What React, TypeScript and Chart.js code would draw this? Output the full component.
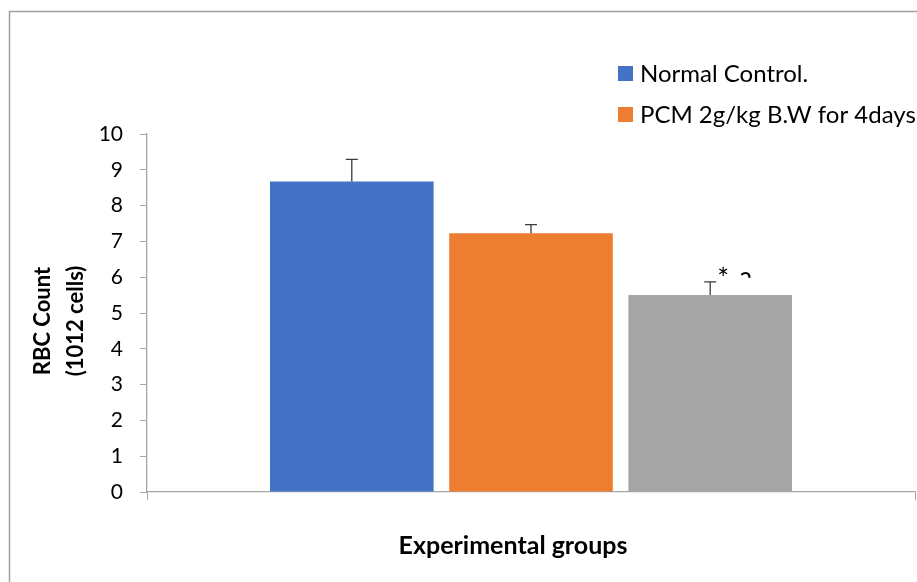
import React, { useEffect, useRef } from "react";
import { Chart, registerables } from "chart.js";

Chart.register(...registerables);

// ---- data ----
const categories = [""];
const seriesLabels = ["Normal Control.", "PCM 2g/kg B.W for 4days.", "Group 3"];
const seriesColors = ["#4472C4", "#ED7D31", "#A5A5A5"];
const normalControl = [8.67];
const pcmGroup = [7.23];
const thirdGroup = [5.5];
const errNormal = [0.62];
const errPcm = [0.24];
const errThird = [0.37];
const sigMarks = ["", "", "*"];
const sigLetters = ["", "", "a"];
const legendShown = [true, true, false];
const yMin = 0;
const yMax = 10;
const yStep = 1;
const yAxisTitle = ["RBC Count", "(1012 cells)"];
const xAxisTitle = "Experimental groups";

const FONT = "Lato, 'Noto Sans', sans-serif";
const AXIS_GRAY = "#a6a6a6";

const decorPlugin = {
  id: "decor",
  beforeDraw(chart: any) {
    const ctx = chart.ctx;
    ctx.save();
    ctx.strokeStyle = "#a0a0a0";
    ctx.lineWidth = 1.5;
    ctx.beginPath();
    ctx.moveTo(9.5, chart.height);
    ctx.lineTo(9.5, 11.5);
    ctx.lineTo(chart.width, 11.5);
    ctx.stroke();
    ctx.restore();
  },
  afterDatasetsDraw(chart: any) {
    const ctx = chart.ctx;
    const yScale = chart.scales.y;
    const errs = [errNormal, errPcm, errThird];
    ctx.save();
    chart.data.datasets.forEach((ds: any, i: number) => {
      const meta = chart.getDatasetMeta(i);
      meta.data.forEach((bar: any, j: number) => {
        const v = ds.data[j];
        const e = errs[i][j];
        const x = bar.x;
        const yb = yScale.getPixelForValue(v);
        const yt = yScale.getPixelForValue(v + e);
        ctx.strokeStyle = "#3a3a3a";
        ctx.lineWidth = 1.3;
        ctx.beginPath();
        ctx.moveTo(x, yb);
        ctx.lineTo(x, yt);
        ctx.moveTo(x - 6, yt);
        ctx.lineTo(x + 6, yt);
        ctx.stroke();
        if (sigMarks[i]) {
          ctx.fillStyle = "#000";
          ctx.font = `28px ${FONT}`;
          ctx.textAlign = "left";
          ctx.textBaseline = "alphabetic";
          ctx.fillText(sigMarks[i], x + 7, yt + 7);
        }
        if (sigLetters[i]) {
          ctx.save();
          ctx.beginPath();
          ctx.rect(x + 25, yt - 11, 30, 7);
          ctx.clip();
          ctx.fillStyle = "#000";
          ctx.font = `26px ${FONT}`;
          ctx.textAlign = "left";
          ctx.textBaseline = "alphabetic";
          ctx.fillText(sigLetters[i], x + 29, yt + 4);
          ctx.restore();
        }
      });
    });
    ctx.restore();
  },
  afterDraw(chart: any) {
    const ctx = chart.ctx;
    ctx.save();
    ctx.font = `24px ${FONT}`;
    ctx.textBaseline = "middle";
    ctx.textAlign = "left";
    let row = 0;
    chart.data.datasets.forEach((ds: any, i: number) => {
      if (!legendShown[i]) return;
      const cy = 73.5 + row * 41;
      ctx.fillStyle = ds.backgroundColor;
      ctx.fillRect(618, cy - 7.5, 15, 15);
      ctx.fillStyle = "#000";
      ctx.fillText(ds.label, 640, cy + 1);
      row++;
    });
    // x-axis title
    const xs = chart.scales.x;
    ctx.font = `bold 25px ${FONT}`;
    ctx.textAlign = "center";
    ctx.fillText(xAxisTitle, 513, xs.top + 54);
    // y-axis title (two lines, rotated)
    const ys = chart.scales.y;
    const cyTitle = (ys.top + ys.bottom) / 2 + 8;
    ctx.font = `bold 22px ${FONT}`;
    yAxisTitle.forEach((line, k) => {
      ctx.save();
      ctx.translate(43 + k * 33, cyTitle);
      ctx.rotate(-Math.PI / 2);
      ctx.textAlign = "center";
      ctx.textBaseline = "middle";
      ctx.fillText(line, 0, 0);
      ctx.restore();
    });
    ctx.restore();
  },
};

export default function App() {
  const ref = useRef<HTMLCanvasElement | null>(null);
  useEffect(() => {
    if (!ref.current) return;
    const seriesValues = [normalControl, pcmGroup, thirdGroup];
    const chart = new Chart(ref.current, {
      type: "bar",
      data: {
        labels: categories,
        datasets: seriesValues.map((vals, i) => ({
          label: seriesLabels[i],
          data: vals,
          backgroundColor: seriesColors[i],
          borderWidth: 0,
          categoryPercentage: 0.7,
          barPercentage: 0.913,
        })),
      },
      options: {
        animation: false,
        responsive: false,
        maintainAspectRatio: false,
        layout: { padding: { top: 134, right: 2, left: 0, bottom: 0 } },
        plugins: {
          legend: { display: false },
          tooltip: { enabled: false },
        },
        scales: {
          x: {
            offset: true,
            grid: {
              offset: true,
              drawOnChartArea: false,
              drawTicks: true,
              tickLength: 8,
              color: AXIS_GRAY,
            },
            border: { color: AXIS_GRAY, width: 1.3 },
            ticks: { display: true, font: { family: FONT, size: 18 } },
            title: { display: false, text: xAxisTitle },
            afterFit(scale: any) {
              scale.height = 90;
            },
          },
          y: {
            min: yMin,
            max: yMax,
            ticks: {
              stepSize: yStep,
              color: "#000",
              padding: 17,
              font: { family: FONT, size: 21 },
            },
            grid: {
              drawOnChartArea: false,
              drawTicks: true,
              tickLength: 7,
              color: AXIS_GRAY,
            },
            border: { color: AXIS_GRAY, width: 1.3 },
            title: { display: false, text: yAxisTitle },
            afterFit(scale: any) {
              scale.width = 147;
            },
          },
        },
      } as any,
      plugins: [decorPlugin],
    });
    return () => chart.destroy();
  }, []);
  return (
    <div style={{ position: "fixed", left: 0, top: 0, width: 917, height: 582, background: "#fff" }}>
      <canvas ref={ref} width={917} height={582} style={{ display: "block" }} />
    </div>
  );
}
